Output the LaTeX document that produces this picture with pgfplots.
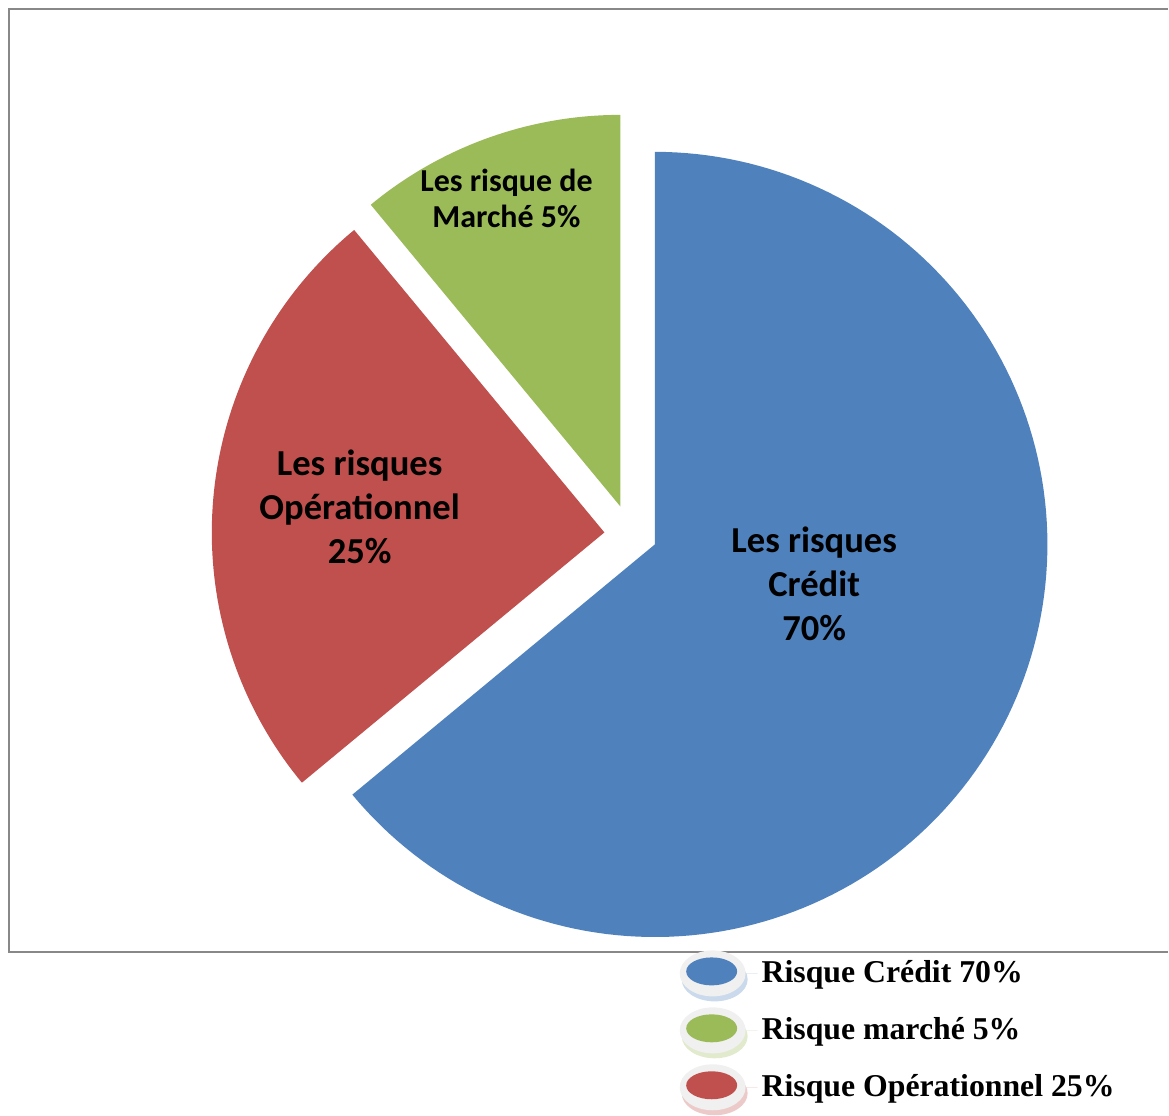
\documentclass[border=0pt]{standalone}
\usepackage{fontspec}
\setmainfont{Liberation Serif}
\newfontfamily\carlito{Carlito}
\usepackage{pgfplots}
\pgfplotsset{compat=1.18}
\definecolor{cblue}{HTML}{4F81BD}
\definecolor{cred}{HTML}{C0504D}
\definecolor{cgreen}{HTML}{9BBB59}
\definecolor{framec}{HTML}{888888}
% slice shares as drawn in the picture (percent)
\def\vCredit{64}
\def\vMarche{11}
\def\vOper{25}
\pgfmathsetmacro{\aCredit}{90-3.6*\vCredit}
\pgfmathsetmacro{\aMarche}{90+3.6*\vMarche}
\pgfmathsetmacro{\aOper}{\aMarche+3.6*\vOper}
\begin{document}
\begin{tikzpicture}
\begin{axis}[
  x=0.5pt, y=0.5pt,
  xmin=0, xmax=1169, ymin=0, ymax=1111,
  hide axis, clip=false,
  legend image code/.code={
    \path (0pt,0pt) -- (38.5pt,0pt);
    \fill[opacity=0.3] (17pt,-3pt) ellipse (16.5pt and 11pt);
    \fill[gray!12] (16pt,0pt) ellipse (16.5pt and 11.5pt);
    \fill (15.5pt,1pt) ellipse (12.75pt and 7pt);
  },
  legend style={at={(axis cs:680,160)}, anchor=north west, draw=none, fill=none,
    font=\fontsize{15.9}{18}\selectfont\bfseries, row sep=3pt, inner sep=0pt},
  legend cell align=left,
]
\path (axis cs:0,0) rectangle (axis cs:1169,1111);
\draw[framec, line width=1.2pt] (axis cs:1169,158) -- (axis cs:9,158) -- (axis cs:9,1102) -- (axis cs:1169,1102);
% Credit (blue)
\addplot[fill=cblue, draw=none, domain=\aCredit:90, samples=150, variable=\t]
  ({655.5+393*cos(\t)},{566+393*sin(\t)}) -- (axis cs:655.5,566) -- cycle;
% Marche (green)
\addplot[fill=cgreen, draw=none, domain=90:\aMarche, samples=40, variable=\t]
  ({621+392*cos(\t)},{604+392*sin(\t)}) -- (axis cs:621,604) -- cycle;
% Operationnel (red)
\addplot[fill=cred, draw=none, domain=\aMarche:\aOper, samples=80, variable=\t]
  ({605+393*cos(\t)},{578+393*sin(\t)}) -- (axis cs:605,578) -- cycle;
\legend{Risque Crédit 70\%, Risque marché 5\%, Risque Opérationnel 25\%}
\node[font=\carlito\bfseries\fontsize{18.3}{22}\selectfont, align=center] at (axis cs:815,527) {Les risques\\Crédit\\70\%};
\node[font=\carlito\bfseries\fontsize{18.3}{22}\selectfont, align=center] at (axis cs:360,604) {Les risques\\Opérationnel\\25\%};
\node[font=\carlito\bfseries\fontsize{16}{18}\selectfont, align=center] at (axis cs:507,912) {Les risque de\\Marché 5\%};
\end{axis}
\end{tikzpicture}
\end{document}
